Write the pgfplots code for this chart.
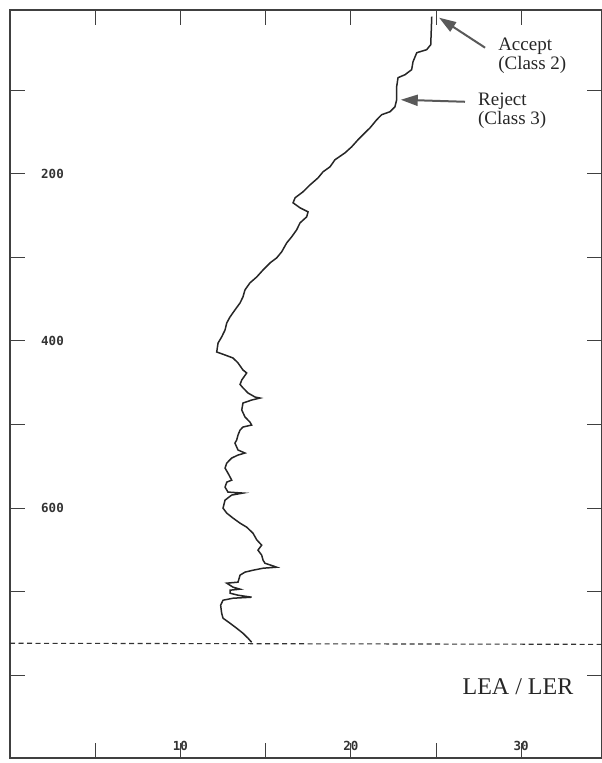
\documentclass[border=0pt]{standalone}
\usepackage{pgfplots}
\pgfplotsset{compat=1.18}
\usepackage{fontspec}
\setmainfont{Liberation Serif}
\newfontfamily\tickfont{DejaVu Sans Mono}
\usetikzlibrary{arrows.meta}

\begin{document}
\begin{tikzpicture}[x=1pt,y=1pt]
\useasboundingbox (0,0) rectangle (602,763);
\begin{axis}[
  at={(10pt,5pt)}, anchor=south west,
  width=592pt, height=748pt, scale only axis,
  xmin=0, xmax=34.74, ymin=4, ymax=899, y dir=reverse,
  xtick={5,10,...,30}, xticklabels={,\mbox{10},,\mbox{20},,\mbox{30}},
  ytick={100,200,...,800}, yticklabels={,\mbox{200},,\mbox{400},,\mbox{600},,},
  tick align=inside, major tick length=15pt,
  tick style={line width=1pt, color=black!75},
  axis line style={line width=1.2pt, black!75},
  xticklabel style={anchor=south, inner sep=0pt, yshift=7pt, font=\tickfont\bfseries\fontsize{12.5}{12.5}\selectfont, text=black!80},
  yticklabel style={anchor=west, inner sep=0pt, xshift=31pt, font=\tickfont\bfseries\fontsize{12.5}{12.5}\selectfont, text=black!80},
  clip=false,
]
\addplot[black!85, line width=1.5pt] coordinates {
(24.75,12) (24.69,45.5) (24.45,51.5) (23.87,55.1) (23.65,65.9) (23.57,75.4)
(23.18,81.4) (22.77,85.0) (22.69,95.8) (22.69,111.4) (22.59,119.8) (22.30,125.7)
(21.81,129.3) (21.52,135.3) (21.13,144.9) (20.83,150.9) (20.42,159.3) (20.05,167.7)
(19.66,174.9) (19.07,183.2) (18.78,191.6) (18.37,197.6) (18.08,204.8) (17.61,213.2)
(17.19,221.6) (16.73,228.7) (16.61,234.7) (17.02,240.7) (17.49,245.5) (17.41,251.5)
(17.02,258.7) (16.82,267.1) (16.53,275.4) (16.24,282.6) (15.94,293.4) (15.65,300.6)
(15.26,306.6) (14.85,315.0) (14.48,323.4) (14.08,330.5) (13.79,338.9) (13.67,347.3)
(13.50,354.5) (13.20,362.9) (12.91,371.3) (12.72,378.4) (12.62,386.8) (12.42,395.2)
(12.21,402.4) (12.13,413.2) (12.62,416.8) (13.09,420.4) (13.38,426.3) (13.67,434.7)
(13.89,438.3) (13.60,446.7) (13.50,452.0) (13.67,456.1) (13.97,462.3) (14.38,467.1)
(14.67,468.3) (14.18,470.7) (13.67,474.3) (13.60,482.6) (13.79,491.0) (14.08,497.0)
(14.18,500.6) (13.67,503.0) (13.50,506.6) (13.38,512.6) (13.30,518.6) (13.20,522.2)
(13.38,530.5) (13.79,534.1) (13.38,536.5) (13.01,540.1) (12.72,546.1) (12.62,552.1)
(12.79,558.1) (13.01,566.5) (12.72,568.9) (12.62,574.9) (12.79,580.8) (13.67,582.0)
(13.01,584.4) (12.62,590.4) (12.50,600.0) (12.72,606.0) (13.09,612.0) (13.50,618.0)
(13.89,622.8) (14.26,630.0) (14.48,638.0) (14.77,644.3) (14.55,650.3) (14.77,656.3)
(14.85,662.3) (14.96,665.9) (15.65,670.7) (14.85,671.9) (14.26,674.3) (13.79,676.6)
(13.50,680.2) (13.38,688.6) (12.72,689.8) (13.09,694.6) (13.50,697.0) (12.91,698.2)
(12.91,701.8) (13.38,704.2) (14.18,706.6) (13.09,707.8) (12.50,710.2) (12.36,716.2)
(12.42,725.7) (12.50,731.7) (12.91,737.7) (13.30,743.7) (13.67,749.7) (13.97,755.7)
(14.18,760.5)
};
\addplot[black!80, line width=1.1pt, dash pattern=on 5pt off 3.5pt] coordinates {(0,761.7) (34.74,763)};
\draw[-{Triangle[length=17pt,width=11pt]}, line width=2pt, color=black!65]
  (axis cs:27.88,49.1) -- (axis cs:25.18,13.2);
\draw[-{Triangle[length=17pt,width=11pt]}, line width=2pt, color=black!65]
  (axis cs:26.70,113.8) -- (axis cs:22.93,111.4);
\node[anchor=north west, align=left, inner sep=0pt, font=\fontsize{19}{19}\selectfont, text=black!85]
  at (axis cs:28.64,37.1) {Accept\\(Class 2)};
\node[anchor=north west, align=left, inner sep=0pt, font=\fontsize{19}{19}\selectfont, text=black!85]
  at (axis cs:27.46,103.0) {Reject\\(Class 3)};
\node[inner sep=0pt, font=\fontsize{24}{24}\selectfont, text=black!85]
  at (axis cs:29.81,813.2) {LEA / LER};
\end{axis}
\end{tikzpicture}
\end{document}
